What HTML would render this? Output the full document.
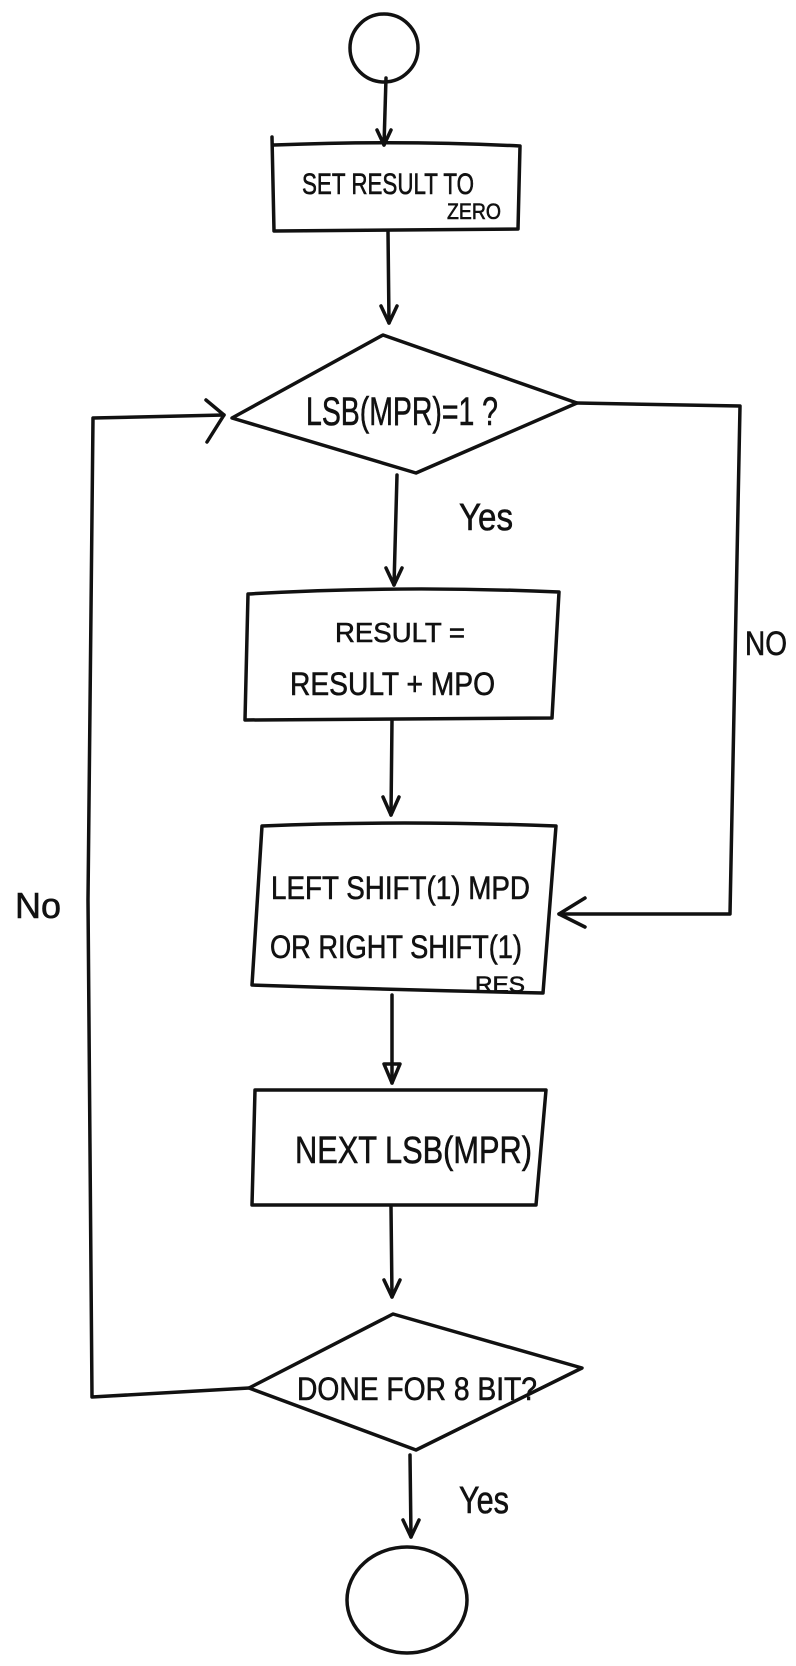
<!DOCTYPE html>
<html><head><meta charset="utf-8"><style>
html,body{margin:0;padding:0;background:#fff;}
svg{display:block;}
text{font-family:"Liberation Sans",sans-serif;fill:#111;stroke:#111;stroke-width:0.6;}
</style></head><body>
<svg width="796" height="1666" viewBox="0 0 796 1666" xmlns="http://www.w3.org/2000/svg">
<g fill="none" stroke="#111" stroke-width="3.5" stroke-linecap="round" stroke-linejoin="round">
<ellipse cx="384" cy="48" rx="34" ry="34"/>
<line x1="386" y1="78" x2="384" y2="145"/>
<polyline points="377,130 384,145 391,130"/>
<path d="M272,137 L274,231 L518,229 L520,146 Q400,140 274,145"/>
<line x1="388" y1="231" x2="389" y2="323"/>
<polyline points="381,306 389,323 397,306"/>
<polygon points="383,335 577,403 416,473 232,418"/>
<polyline points="249,1388 92,1397 88,900 93,418 224,415"/>
<polyline points="206,400 224,415 207,442"/>
<polyline points="577,403 740,406 730,914 559,914"/>
<polyline points="585,898 559,914 585,927"/>
<line x1="397" y1="475" x2="394" y2="585"/>
<polyline points="386,568 394,585 402,568"/>
<path d="M248,594 Q400,585 559,592 L552,718 L245,720 Z"/>
<line x1="392" y1="720" x2="391" y2="815"/>
<polyline points="383,797 391,815 399,797"/>
<path d="M262,826 Q400,820 556,826 L543,993 Q400,990 252,985 Z"/>
<line x1="392" y1="995" x2="392" y2="1083"/>
<polygon points="384,1064 400,1064 392,1083"/>
<path d="M255,1090 L546,1090 L536,1205 L252,1205 Z"/>
<line x1="391" y1="1207" x2="392" y2="1297"/>
<polyline points="384,1280 392,1297 400,1280"/>
<polygon points="393,1314 582,1368 416,1450 249,1388"/>
<line x1="410" y1="1455" x2="411" y2="1537"/>
<polyline points="403,1520 411,1537 419,1520"/>
<ellipse cx="407" cy="1600" rx="60" ry="53"/>
</g>
<text x="302" y="194" font-size="30" textLength="172" lengthAdjust="spacingAndGlyphs">SET RESULT TO</text>
<text x="447" y="219" font-size="22" textLength="54" lengthAdjust="spacingAndGlyphs">ZERO</text>
<text x="306" y="425" font-size="40" textLength="192" lengthAdjust="spacingAndGlyphs">LSB(MPR)=1 ?</text>
<text x="459" y="530" font-size="38" textLength="54" lengthAdjust="spacingAndGlyphs">Yes</text>
<text x="335" y="642" font-size="28" textLength="130" lengthAdjust="spacingAndGlyphs">RESULT =</text>
<text x="290" y="695" font-size="32" textLength="205" lengthAdjust="spacingAndGlyphs">RESULT + MPO</text>
<text x="745" y="655" font-size="34" textLength="42" lengthAdjust="spacingAndGlyphs">NO</text>
<text x="271" y="899" font-size="32" textLength="259" lengthAdjust="spacingAndGlyphs">LEFT SHIFT(1) MPD</text>
<text x="270" y="958" font-size="32" textLength="252" lengthAdjust="spacingAndGlyphs">OR RIGHT SHIFT(1)</text>
<text x="475" y="992" font-size="22" textLength="50" lengthAdjust="spacingAndGlyphs">RES</text>
<text x="15" y="918" font-size="36" textLength="46" lengthAdjust="spacingAndGlyphs">No</text>
<text x="295" y="1163" font-size="38" textLength="237" lengthAdjust="spacingAndGlyphs">NEXT LSB(MPR)</text>
<text x="297" y="1400" font-size="32" textLength="240" lengthAdjust="spacingAndGlyphs">DONE FOR 8 BIT?</text>
<text x="459" y="1513" font-size="38" textLength="50" lengthAdjust="spacingAndGlyphs">Yes</text>
</svg>
</body></html>
